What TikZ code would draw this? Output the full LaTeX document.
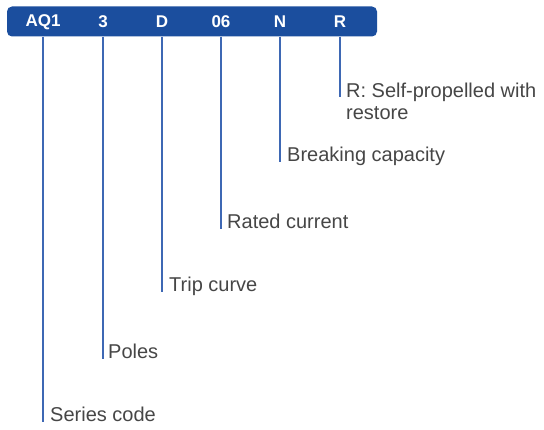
\documentclass[tikz,border=0pt]{standalone}
\usepackage{fontspec}
\setmainfont{Liberation Sans}
\usepackage{xcolor}

\definecolor{barblue}{HTML}{1B4E9E}
\definecolor{leadblue}{HTML}{3E68B4}
\definecolor{labelgray}{HTML}{464646}

\begin{document}
\begin{tikzpicture}[x=1pt,y=-1pt,
  code/.style={text=white,font=\fontsize{17}{17}\selectfont\bfseries,inner sep=0pt},
  lbl/.style={text=labelgray,font=\fontsize{20}{22}\selectfont,anchor=base west,inner sep=0pt,align=left},
  lead/.style={leadblue,line width=2.4pt}]
\useasboundingbox (0,0) rectangle (544,430);
\node[fill=barblue,rounded corners=5pt,minimum width=370pt,minimum height=30pt,inner sep=0pt] (bar) at (192,21.5) {};
\node[code] (aq1) at (43,22) {AQ1};
\node[code] (poles) at (103,22) {3};
\node[code] (curve) at (162,22) {D};
\node[code] (amps) at (221,22) {06};
\node[code] (brk) at (280,22) {N};
\node[code] (rst) at (340,22) {R};
\node[lbl] (seriestxt) at (50,422) {Series code};
\node[lbl] (polestxt) at (108,359) {Poles};
\node[lbl] (curvetxt) at (169,292) {Trip curve};
\node[lbl] (ampstxt) at (227,229) {Rated current};
\node[lbl] (brktxt) at (287,162) {Breaking capacity};
\node[lbl] (rsttxt) at (346,120) {R: Self-propelled with\\restore};
\draw[lead] (aq1 |- bar.south) -- (aq1 |- seriestxt.base);
\draw[lead] (poles |- bar.south) -- (poles |- polestxt.base);
\draw[lead] (curve |- bar.south) -- (curve |- curvetxt.base);
\draw[lead] (amps |- bar.south) -- (amps |- ampstxt.base);
\draw[lead] (brk |- bar.south) -- (brk |- brktxt.base);
\draw[lead] (rst |- bar.south) -- ([yshift=23pt]rst |- rsttxt.base);
\end{tikzpicture}
\end{document}
